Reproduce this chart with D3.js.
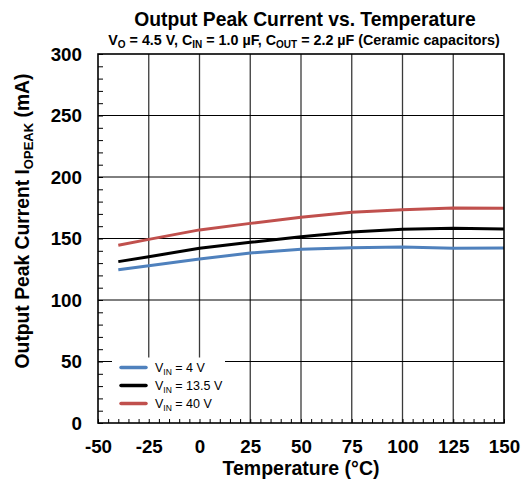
<!DOCTYPE html>
<html>
<head>
<meta charset="utf-8">
<script src="https://cdn.jsdelivr.net/npm/d3@7"></script>
<style>
  body { margin: 0; background: #fff; }
  svg { font-family: "Liberation Sans", Arial, sans-serif; }
</style>
</head>
<body>
<svg id="chart" width="523" height="485"></svg>
<script>
// temperature points (°C)
const temps = [-40, -25, 0, 25, 50, 75, 100, 125, 150];
// output peak current (mA) per input voltage
const vin4 = [124.6, 127.9, 133.3, 138.2, 141.2, 142.5, 143.1, 142.0, 142.3];
const vin13_5 = [131.2, 135.2, 142.0, 146.9, 151.5, 155.3, 157.5, 158.3, 157.7];
const vin40 = [144.5, 149.3, 157.0, 162.3, 167.2, 171.3, 173.4, 174.8, 174.5];

const seriesNames = ["4 V", "13.5 V", "40 V"];
const seriesColors = ["#4F81BD", "#000000", "#C0504D"];
const seriesValues = [vin4, vin13_5, vin40];

const xTicks = [-50, -25, 0, 25, 50, 75, 100, 125, 150];
const yTicks = [0, 50, 100, 150, 200, 250, 300];

const margin = {top: 54, right: 19, bottom: 62, left: 98};
const svg = d3.select("#chart");
const width = +svg.attr("width") - margin.left - margin.right,
      height = +svg.attr("height") - margin.top - margin.bottom;

const x = d3.scaleLinear().domain([-50, 150]).range([0, width]);
const y = d3.scaleLinear().domain([0, 300]).range([height, 0]);

// title
const title = svg.append("g").attr("font-weight", "bold").attr("fill", "#000");
title.append("text")
  .attr("x", margin.left + width / 2 + 4).attr("y", 26)
  .attr("text-anchor", "middle").attr("font-size", 19.3)
  .text("Output Peak Current vs. Temperature");
const sub = title.append("text")
  .attr("x", margin.left + width / 2 + 3).attr("y", 44.5)
  .attr("text-anchor", "middle").attr("font-size", 14.3);
[["V", null], ["O", "sub"], [" = 4.5 V, C", null], ["IN", "sub"], [" = 1.0 µF, C", null], ["OUT", "sub"], [" = 2.2 µF (Ceramic capacitors)", null]]
  .forEach(([t, k]) => {
    const ts = sub.append("tspan").text(t);
    if (k) ts.attr("font-size", 10).attr("dy", 3);
    else if (t !== "V") ts.attr("dy", -3);
  });

const g = svg.append("g").attr("transform", "translate(" + margin.left + "," + margin.top + ")");

// grid
g.append("g").selectAll("line").data(xTicks.slice(1, -1)).join("line")
  .attr("x1", d => x(d)).attr("x2", d => x(d))
  .attr("y1", 0).attr("y2", height)
  .attr("stroke", "#3a3a3a").attr("stroke-width", 1.3);
g.append("g").selectAll("line").data(yTicks.slice(1, -1)).join("line")
  .attr("x1", 0).attr("x2", width)
  .attr("y1", d => y(d)).attr("y2", d => y(d))
  .attr("stroke", "#000").attr("stroke-width", 1);

// legend background
const lg = g.append("g").attr("transform", "translate(14," + (y(50) - 4) + ")");
lg.append("rect").attr("width", 113).attr("height", height - y(50) + 3).attr("fill", "#fff");

// lines
const line = d3.line()
  .x((d, i) => x(temps[i]))
  .y(d => y(d));
seriesValues.forEach((vals, i) => {
  g.append("path")
    .datum(vals)
    .attr("fill", "none")
    .attr("stroke", seriesColors[i])
    .attr("stroke-width", 3)
    .attr("stroke-linejoin", "round")
    .attr("d", line);
});

// legend entries
seriesNames.forEach((name, i) => {
  const yy = 10 + i * 18;
  lg.append("line")
    .attr("x1", 9).attr("x2", 34).attr("y1", yy).attr("y2", yy)
    .attr("stroke", seriesColors[i]).attr("stroke-width", 3.5)
    .attr("stroke-linecap", "round");
  const t = lg.append("text").attr("x", 43).attr("y", yy + 4.5)
    .attr("font-size", 12.5).attr("fill", "#000");
  t.append("tspan").text("V");
  t.append("tspan").text("IN").attr("font-size", 8.5).attr("dy", 3);
  t.append("tspan").text(" = " + name).attr("dy", -3);
});

// minor ticks
g.append("g")
  .call(d3.axisLeft(y).tickValues(d3.range(0, 301, 10)).tickSize(-5).tickFormat(""))
  .call(a => a.select(".domain").remove())
  .selectAll("line").attr("stroke", "#000");
g.append("g").attr("transform", "translate(0," + height + ")")
  .call(d3.axisBottom(x).tickValues(d3.range(-50, 151, 5)).tickSize(-4).tickFormat(""))
  .call(a => a.select(".domain").remove())
  .selectAll("line").attr("stroke", "#000");

// border
g.append("rect").attr("width", width).attr("height", height)
  .attr("fill", "none").attr("stroke", "#000").attr("stroke-width", 1.6);

// tick labels
g.append("g")
  .call(d3.axisLeft(y).tickValues(yTicks).tickSize(0).tickPadding(16).tickFormat(d => String(d)))
  .call(a => a.select(".domain").remove())
  .selectAll("text")
  .attr("font-family", "Liberation Sans, Arial, sans-serif")
  .attr("font-size", 18.8).attr("font-weight", "bold").attr("fill", "#000");
g.append("g").attr("transform", "translate(0," + height + ")")
  .call(d3.axisBottom(x).tickValues(xTicks).tickSize(0).tickPadding(17).tickFormat(d => String(d)))
  .call(a => a.select(".domain").remove())
  .selectAll("text")
  .attr("font-family", "Liberation Sans, Arial, sans-serif")
  .attr("font-size", 18.8).attr("font-weight", "bold").attr("fill", "#000");

// axis titles
svg.append("text")
  .attr("x", margin.left + width / 2).attr("y", 475)
  .attr("text-anchor", "middle").attr("font-size", 19.5).attr("font-weight", "bold")
  .text("Temperature (°C)");
const yt = svg.append("text")
  .attr("transform", "translate(29,221) rotate(-90)")
  .attr("text-anchor", "middle").attr("font-size", 19.3).attr("font-weight", "bold");
yt.append("tspan").text("Output Peak Current I");
yt.append("tspan").text("OPEAK").attr("font-size", 13).attr("dy", 4);
yt.append("tspan").text(" (mA)").attr("dy", -4);
</script>
</body>
</html>
